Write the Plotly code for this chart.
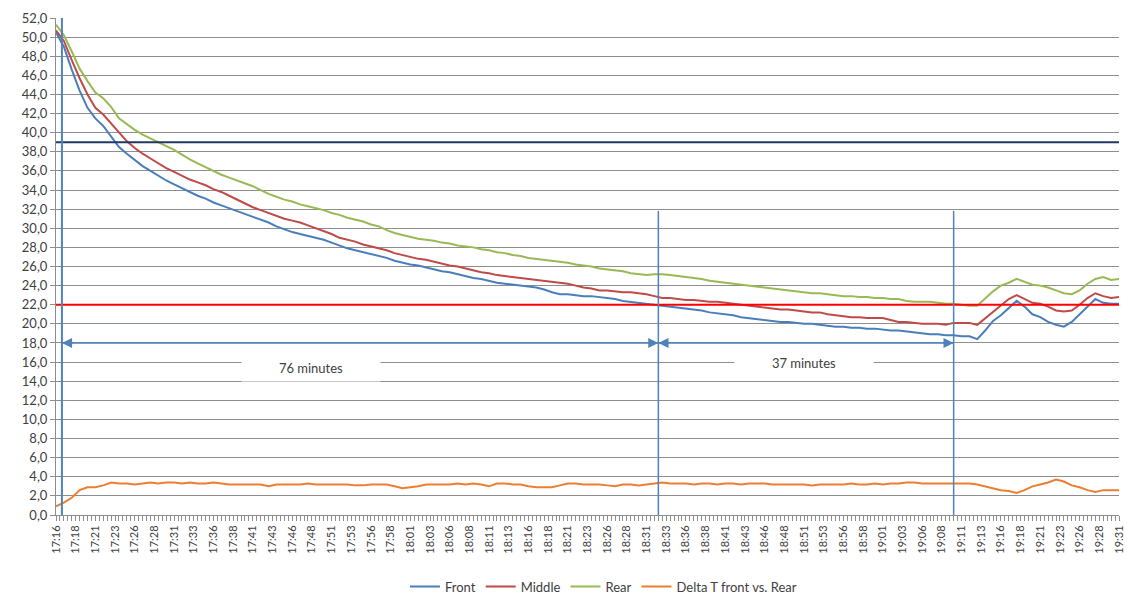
import pandas as pd
import plotly.graph_objects as go

# Temperature log, one reading per minute from 17:16
START = "2000-01-01 17:16:00"

front = [
    50.5, 49.0, 46.6, 44.4, 42.6, 41.5, 40.7, 39.6, 38.5, 37.8,
    37.1, 36.5, 36.0, 35.5, 35.0, 34.6, 34.2, 33.8, 33.4, 33.1,
    32.7, 32.4, 32.1, 31.8, 31.5, 31.2, 30.9, 30.6, 30.2, 29.9,
    29.6, 29.4, 29.2, 29.0, 28.8, 28.5, 28.2, 27.9, 27.7, 27.5,
    27.3, 27.1, 26.9, 26.6, 26.4, 26.2, 26.1, 25.9, 25.7, 25.5,
    25.4, 25.2, 25.0, 24.8, 24.7, 24.5, 24.3, 24.2, 24.1, 24.0,
    23.9, 23.8, 23.6, 23.3, 23.1, 23.1, 23.0, 22.9, 22.9, 22.8,
    22.7, 22.6, 22.4, 22.3, 22.2, 22.1, 22.0, 21.9, 21.8, 21.7,
    21.6, 21.5, 21.4, 21.2, 21.1, 21.0, 20.9, 20.7, 20.6, 20.5,
    20.4, 20.3, 20.2, 20.2, 20.1, 20.0, 20.0, 19.9, 19.8, 19.7,
    19.7, 19.6, 19.6, 19.5, 19.5, 19.4, 19.3, 19.3, 19.2, 19.1,
    19.0, 18.9, 18.9, 18.8, 18.8, 18.7, 18.7, 18.4, 19.3, 20.3,
    20.9, 21.6, 22.4, 21.8, 21.0, 20.7, 20.2, 19.9, 19.7, 20.2,
    21.0, 21.8, 22.6, 22.2, 22.1, 22.1,
]

middle = [
    50.7, 49.6, 47.6, 45.7, 44.0, 42.6, 41.9, 41.0, 40.0, 39.1,
    38.4, 37.8, 37.3, 36.8, 36.3, 35.9, 35.5, 35.1, 34.8, 34.5,
    34.1, 33.8, 33.4, 33.0, 32.6, 32.2, 31.9, 31.6, 31.3, 31.0,
    30.8, 30.6, 30.3, 30.0, 29.7, 29.4, 29.0, 28.8, 28.6, 28.3,
    28.1, 27.9, 27.7, 27.4, 27.2, 27.0, 26.8, 26.7, 26.5, 26.3,
    26.1, 26.0, 25.8, 25.6, 25.4, 25.3, 25.1, 25.0, 24.9, 24.8,
    24.7, 24.6, 24.5, 24.4, 24.3, 24.2, 24.0, 23.8, 23.7, 23.5,
    23.5, 23.4, 23.3, 23.3, 23.2, 23.1, 22.9, 22.7, 22.7, 22.6,
    22.5, 22.5, 22.4, 22.3, 22.3, 22.2, 22.1, 22.0, 21.9, 21.8,
    21.7, 21.6, 21.5, 21.5, 21.4, 21.3, 21.2, 21.2, 21.0, 20.9,
    20.8, 20.7, 20.7, 20.6, 20.6, 20.6, 20.4, 20.2, 20.2, 20.1,
    20.0, 20.0, 20.0, 19.9, 20.1, 20.1, 20.1, 19.9, 20.6, 21.3,
    21.9, 22.6, 23.0, 22.6, 22.2, 22.1, 21.8, 21.4, 21.3, 21.4,
    22.0, 22.7, 23.2, 22.9, 22.7, 22.8,
]

rear = [
    51.3, 50.2, 48.5, 46.7, 45.4, 44.2, 43.6, 42.7, 41.5, 40.9,
    40.3, 39.8, 39.4, 39.0, 38.6, 38.2, 37.7, 37.2, 36.8, 36.4,
    36.0, 35.6, 35.3, 35.0, 34.7, 34.4, 34.0, 33.6, 33.3, 33.0,
    32.8, 32.5, 32.3, 32.1, 31.9, 31.6, 31.4, 31.1, 30.9, 30.7,
    30.4, 30.2, 29.8, 29.5, 29.3, 29.1, 28.9, 28.8, 28.7, 28.5,
    28.4, 28.2, 28.1, 28.0, 27.8, 27.7, 27.5, 27.4, 27.2, 27.1,
    26.9, 26.8, 26.7, 26.6, 26.5, 26.4, 26.2, 26.1, 26.0, 25.8,
    25.7, 25.6, 25.5, 25.3, 25.2, 25.1, 25.2, 25.2, 25.1, 25.0,
    24.9, 24.8, 24.7, 24.5, 24.4, 24.3, 24.2, 24.1, 24.0, 23.9,
    23.8, 23.7, 23.6, 23.5, 23.4, 23.3, 23.2, 23.2, 23.1, 23.0,
    22.9, 22.9, 22.8, 22.8, 22.7, 22.7, 22.6, 22.6, 22.4, 22.3,
    22.3, 22.3, 22.2, 22.1, 22.1, 22.0, 21.9, 21.9, 22.7, 23.4,
    24.0, 24.3, 24.7, 24.4, 24.1, 24.0, 23.8, 23.5, 23.2, 23.1,
    23.5, 24.2, 24.7, 24.9, 24.6, 24.7,
]

delta_t = [
    0.9, 1.3, 1.8, 2.6, 2.9, 2.9, 3.1, 3.4, 3.3, 3.3,
    3.2, 3.3, 3.4, 3.3, 3.4, 3.4, 3.3, 3.4, 3.3, 3.3,
    3.4, 3.3, 3.2, 3.2, 3.2, 3.2, 3.2, 3.0, 3.2, 3.2,
    3.2, 3.2, 3.3, 3.2, 3.2, 3.2, 3.2, 3.2, 3.1, 3.1,
    3.2, 3.2, 3.2, 3.0, 2.8, 2.9, 3.0, 3.2, 3.2, 3.2,
    3.2, 3.3, 3.2, 3.3, 3.2, 3.0, 3.3, 3.3, 3.2, 3.2,
    3.0, 2.9, 2.9, 2.9, 3.1, 3.3, 3.3, 3.2, 3.2, 3.2,
    3.1, 3.0, 3.2, 3.2, 3.1, 3.2, 3.3, 3.4, 3.3, 3.3,
    3.3, 3.2, 3.3, 3.3, 3.2, 3.3, 3.3, 3.2, 3.3, 3.3,
    3.3, 3.2, 3.2, 3.2, 3.2, 3.2, 3.1, 3.2, 3.2, 3.2,
    3.2, 3.3, 3.2, 3.2, 3.3, 3.2, 3.3, 3.3, 3.4, 3.4,
    3.3, 3.3, 3.3, 3.3, 3.3, 3.3, 3.3, 3.2, 3.0, 2.8,
    2.6, 2.5, 2.3, 2.6, 3.0, 3.2, 3.4, 3.7, 3.5, 3.1,
    2.9, 2.6, 2.4, 2.6, 2.6, 2.6,
]

TICK_LABELS = [
    "17:16", "17:18", "17:21", "17:23", "17:26", "17:28", "17:31", "17:33",
    "17:36", "17:38", "17:41", "17:43", "17:46", "17:48", "17:51", "17:53",
    "17:56", "17:58", "18:01", "18:03", "18:06", "18:08", "18:11", "18:13",
    "18:16", "18:18", "18:21", "18:23", "18:26", "18:28", "18:31", "18:33",
    "18:36", "18:38", "18:41", "18:43", "18:46", "18:48", "18:51", "18:53",
    "18:56", "18:58", "19:01", "19:03", "19:06", "19:08", "19:11", "19:13",
    "19:16", "19:18", "19:21", "19:23", "19:26", "19:28", "19:31",
]

# Reference temperatures and phase markers
UPPER_LIMIT = 39.0
LOWER_LIMIT = 22.0
PHASE_MARKS = ["2000-01-01 17:16:45", "2000-01-01 18:32:30", "2000-01-01 19:10:00"]
PHASE_LABELS = ["76 minutes", "37 minutes"]
PHASE_LABEL_POS = [("2000-01-01 17:48:20", 15.4), ("2000-01-01 18:51:00", 15.9)]
ARROW_LEVEL = 18.0

times = pd.date_range(START, periods=len(front), freq="1min")
tick_pos = pd.date_range(START, periods=len(TICK_LABELS), freq="150s")

FONT = "Lato, 'Open Sans', sans-serif"
TXT = "#404040"
GRID = "#8e8e8e"
MARK = "#4f81bd"

series = [
    ("Front", front, "#4a7ebb"),
    ("Middle", middle, "#be4b48"),
    ("Rear", rear, "#98b954"),
    ("Delta T front vs. Rear", delta_t, "#ed7d31"),
]

fig = go.Figure()
for name, vals, col in series:
    fig.add_trace(go.Scatter(
        x=times, y=vals, name=name, mode="lines",
        line=dict(color=col, width=2),
    ))

shapes = [
    dict(type="line", xref="paper", x0=0, x1=1, yref="y", y0=UPPER_LIMIT, y1=UPPER_LIMIT,
         line=dict(color="#1f3864", width=2), layer="above"),
    dict(type="line", xref="paper", x0=0, x1=1, yref="y", y0=LOWER_LIMIT, y1=LOWER_LIMIT,
         line=dict(color="#ff0000", width=2), layer="above"),
    dict(type="line", xref="x", x0=PHASE_MARKS[0], x1=PHASE_MARKS[0], yref="y", y0=0, y1=52,
         line=dict(color=MARK, width=2), layer="above"),
    dict(type="line", xref="x", x0=PHASE_MARKS[1], x1=PHASE_MARKS[1], yref="y", y0=0, y1=31.8,
         line=dict(color=MARK, width=1.5), layer="above"),
    dict(type="line", xref="x", x0=PHASE_MARKS[2], x1=PHASE_MARKS[2], yref="y", y0=0, y1=31.8,
         line=dict(color=MARK, width=1.5), layer="above"),
]
for a, b in zip(PHASE_MARKS[:-1], PHASE_MARKS[1:]):
    shapes.append(dict(type="line", xref="x", x0=a, x1=b, yref="y", y0=ARROW_LEVEL, y1=ARROW_LEVEL,
                       line=dict(color=MARK, width=1.5), layer="above"))

annotations = []
for a, b in zip(PHASE_MARKS[:-1], PHASE_MARKS[1:]):
    for pos, off in ((a, 12), (b, -12)):
        annotations.append(dict(
            x=pos, y=ARROW_LEVEL, xref="x", yref="y", text="", showarrow=True,
            ax=off, ay=0, arrowhead=2, arrowsize=1.35, arrowwidth=1.5,
            arrowcolor=MARK, standoff=0,
        ))
for label, (lx, ly) in zip(PHASE_LABELS, PHASE_LABEL_POS):
    annotations.append(dict(
        x=lx, y=ly, xref="x", yref="y", text=label, showarrow=False,
        bgcolor="white", width=136, height=24,
        font=dict(family=FONT, size=13, color=TXT),
    ))

fig.update_layout(
    width=1127, height=596,
    margin=dict(l=56, r=8, t=18, b=81, autoexpand=False),
    paper_bgcolor="white", plot_bgcolor="white",
    separators=",.",
    font=dict(family=FONT, size=12, color=TXT),
    showlegend=True,
    legend=dict(orientation="h", x=0.515, xanchor="center", y=-0.114, yanchor="top",
                font=dict(family=FONT, size=13, color=TXT),
                bgcolor="rgba(0,0,0,0)"),
    shapes=shapes,
    annotations=annotations,
    xaxis=dict(
        type="date",
        range=[START, "2000-01-01 19:31:00"],
        tickmode="array", tickvals=tick_pos, ticktext=TICK_LABELS,
        tickangle=-90, tickfont=dict(family=FONT, size=11, color=TXT),
        ticks="outside", ticklen=5, tickcolor=GRID,
        minor=dict(tickmode="linear", tick0=START, dtick=30000,
                   ticks="outside", ticklen=5, tickcolor=GRID, showgrid=False),
        showline=True, linecolor=GRID, linewidth=1,
        showgrid=False, zeroline=False,
    ),
    yaxis=dict(
        range=[0, 52], dtick=2, tick0=0, tickformat=".1f",
        tickfont=dict(family=FONT, size=13, color=TXT),
        ticks="outside", ticklen=5, tickcolor=GRID,
        showgrid=True, gridcolor=GRID, gridwidth=1,
        showline=True, linecolor=GRID, linewidth=1,
        zeroline=False,
    ),
)

fig.write_html("out.html")
